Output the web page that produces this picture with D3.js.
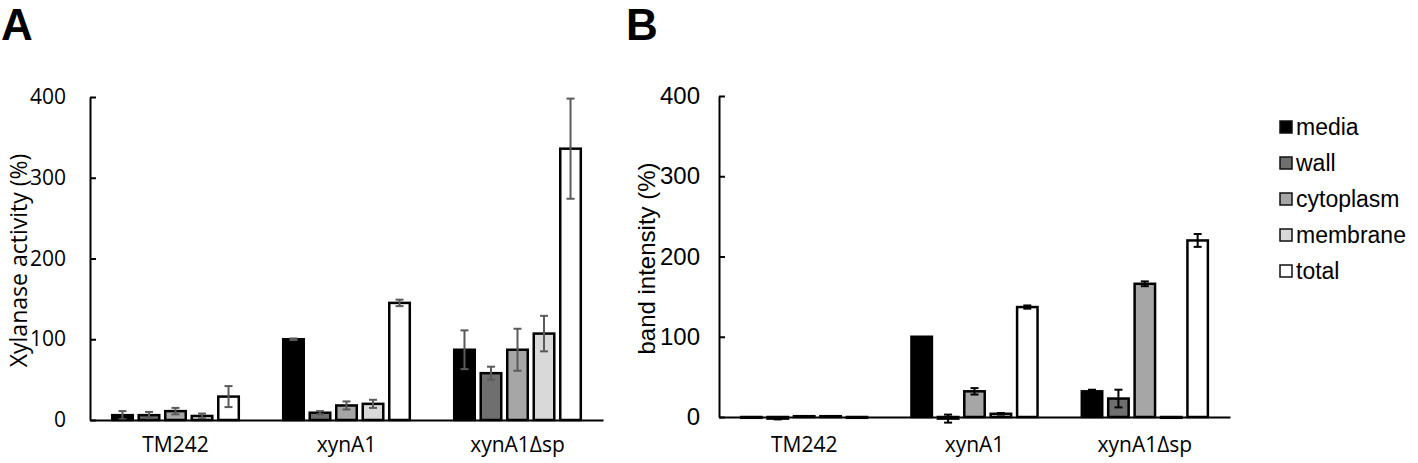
<!DOCTYPE html>
<html>
<head>
<meta charset="utf-8">
<script src="https://cdn.jsdelivr.net/npm/d3@7"></script>
<style>
  body { margin: 0; background: #fff; }
  svg { display: block; }
</style>
</head>
<body>
<div id="chart-area"></div>
<script>
// categories / series
const groups = ["TM242", "xynA1", "xynA1\u0394sp"]
const fractions = ["media", "wall", "cytoplasm", "membrane", "total"]
const yTicks = [0, 100, 200, 300, 400]

// Panel A: xylanase activity (%), per fraction, groups in order
const activityMedia = [6, 100, 87]
const activityWall = [6, 9, 58]
const activityCyto = [11, 18, 87]
const activityMemb = [5, 20, 107]
const activityTotal = [29, 145, 336]
const activityErrMedia = [5, 1, 24]
const activityErrWall = [4, 2, 8]
const activityErrCyto = [4, 5, 26]
const activityErrMemb = [3, 5, 22]
const activityErrTotal = [13, 4, 62]

// Panel B: band intensity (%)
const bandMedia = [-1, 100, 32]
const bandWall = [-2, -2, 23]
const bandCyto = [1, 32, 166]
const bandMemb = [1, 4, -1]
const bandTotal = [-1, 137, 220]
const bandErrMedia = [0, 0, 2]
const bandErrWall = [1, 5, 11]
const bandErrCyto = [0, 4, 3]
const bandErrMemb = [0, 1, 0]
const bandErrTotal = [0, 2, 8]

const FILL = { media: "#000000", wall: "#6f6f6f", cytoplasm: "#a6a6a6", membrane: "#d9d9d9", total: "#ffffff" }

const svg = d3.select("#chart-area").append("svg")
  .attr("width", 1418)
  .attr("height", 463)

function buildRows(vals, errs) {
  const rows = []
  groups.forEach((g, gi) => {
    fractions.forEach((f, fi) => {
      rows.push({ group: g, fraction: f, value: vals[fi][gi], err: errs[fi][gi] })
    })
  })
  return rows
}

function drawPanel(o) {
  const xScale = d3.scaleBand().domain(groups).range([o.x0, o.x1])
  const xInner = d3.scaleBand().domain(fractions)
    .range([0, xScale.bandwidth()])
    .paddingInner(0.15)
    .paddingOuter(0.8)
  const yScale = d3.scaleLinear().domain([0, 400]).range([o.y0, o.y1])

  const g = svg.append("g")

  // y axis with inward ticks
  const yAxis = d3.axisLeft(yScale)
    .tickValues(yTicks)
    .tickSizeInner(-6)
    .tickSizeOuter(0)
    .tickPadding(o.tickPad)
  const ya = g.append("g")
    .attr("transform", `translate(${o.x0},0)`)
    .call(yAxis)
  ya.select(".domain").attr("stroke", "#000").attr("stroke-width", 2)
  ya.selectAll(".tick line").attr("stroke", "#000").attr("stroke-width", 2)
  ya.selectAll("text")
    .attr("font-family", o.font)
    .attr("font-size", o.tickSize)
    .attr("fill", "#000")

  // bars
  const rows = buildRows(o.vals, o.errs)
  g.selectAll(".bar").data(rows).enter().append("rect")
    .attr("class", "bar")
    .attr("x", d => xScale(d.group) + xInner(d.fraction) + 1)
    .attr("y", d => yScale(Math.max(0, d.value)))
    .attr("width", xInner.bandwidth() - 2)
    .attr("height", d => Math.abs(yScale(d.value) - yScale(0)))
    .attr("fill", d => FILL[d.fraction])
    .attr("stroke", "#000")
    .attr("stroke-width", 2.5)

  // error bars
  const eb = g.selectAll(".err").data(rows.filter(d => d.err > 0)).enter().append("g")
    .attr("class", "err")
    .attr("stroke", o.errColor)
    .attr("stroke-width", 2)
  const cx = d => xScale(d.group) + xInner(d.fraction) + xInner.bandwidth() / 2
  eb.append("line")
    .attr("x1", cx).attr("x2", cx)
    .attr("y1", d => yScale(d.value + d.err))
    .attr("y2", d => yScale(d.value - d.err))
  eb.append("line")
    .attr("x1", d => cx(d) - 4).attr("x2", d => cx(d) + 4)
    .attr("y1", d => yScale(d.value + d.err)).attr("y2", d => yScale(d.value + d.err))
  eb.append("line")
    .attr("x1", d => cx(d) - 4).attr("x2", d => cx(d) + 4)
    .attr("y1", d => yScale(d.value - d.err)).attr("y2", d => yScale(d.value - d.err))

  // x axis: baseline only, labels below
  const xAxis = d3.axisBottom(xScale).tickSize(0).tickPadding(o.catPad)
  const xa = g.append("g")
    .attr("transform", `translate(0,${yScale(0)})`)
    .call(xAxis)
  xa.select(".domain").attr("stroke", "#000").attr("stroke-width", 2)
  xa.selectAll("text")
    .attr("font-family", "Open Sans, sans-serif")
    .attr("font-size", o.catSize)
    .attr("fill", "#000")

  // y label
  g.append("text")
    .attr("transform", `translate(${o.labelX},${(o.y0 + o.y1) / 2 + 2}) rotate(-90)`)
    .attr("text-anchor", "middle")
    .attr("font-family", o.font)
    .attr("font-size", o.labelSize)
    .text(o.label)

  // panel letter
  g.append("text")
    .attr("x", o.letterX).attr("y", 40)
    .attr("font-family", "Liberation Sans, Arial, sans-serif")
    .attr("font-weight", "bold")
    .attr("font-size", 44)
    .text(o.letter)
}

drawPanel({
  x0: 90, x1: 603, y0: 420, y1: 97,
  vals: [activityMedia, activityWall, activityCyto, activityMemb, activityTotal],
  errs: [activityErrMedia, activityErrWall, activityErrCyto, activityErrMemb, activityErrTotal],
  errColor: "#5a5a5a",
  font: "Open Sans, sans-serif",
  tickSize: 21, tickPad: 24, catSize: 21, catPad: 17,
  label: "Xylanase activity (%)", labelX: 27, labelSize: 23,
  letter: "A", letterX: 1
})

drawPanel({
  x0: 719, x1: 1230, y0: 417, y1: 96,
  vals: [bandMedia, bandWall, bandCyto, bandMemb, bandTotal],
  errs: [bandErrMedia, bandErrWall, bandErrCyto, bandErrMemb, bandErrTotal],
  errColor: "#000",
  font: "Liberation Sans, Arial, sans-serif",
  tickSize: 24, tickPad: 19, catSize: 21, catPad: 20,
  label: "band intensity (%)", labelX: 655, labelSize: 24,
  letter: "B", letterX: 626
})

// legend
const legend = svg.append("g").selectAll("g").data(fractions).enter().append("g")
  .attr("transform", (d, i) => `translate(1280,${127 + i * 36})`)
legend.append("rect")
  .attr("x", 0).attr("y", -6)
  .attr("width", 12).attr("height", 12)
  .attr("fill", d => FILL[d])
  .attr("stroke", "#111").attr("stroke-width", 1.5)
legend.append("text")
  .attr("x", 16).attr("y", 8)
  .attr("font-family", "Liberation Sans, Arial, sans-serif")
  .attr("font-size", 23)
  .text(d => d)
</script>
</body>
</html>
